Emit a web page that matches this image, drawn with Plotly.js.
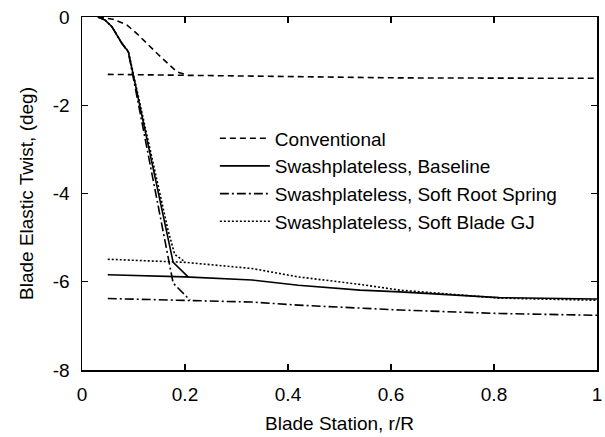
<!DOCTYPE html>
<html>
<head>
<meta charset="utf-8">
<script src="https://cdn.plot.ly/plotly-3.0.1.min.js"></script>
<style>html,body{margin:0;padding:0;background:#fff;}#chart{width:605px;height:437px;}</style>
</head>
<body>
<div id="chart"></div>
<script>
// Series names
const seriesNames = [
  "Conventional",
  "Swashplateless, Baseline",
  "Swashplateless, Soft Root Spring",
  "Swashplateless, Soft Blade GJ"
];

// Conventional (root segment, then blade segment; null separates them)
const convX = [0.031, 0.06, 0.087, 0.106, 0.148, 0.184, 0.2, null, 0.05, 0.2, 0.617, 1.0];
const convY = [0, -0.05, -0.18, -0.37, -0.85, -1.24, -1.3, null, -1.30, -1.32, -1.38, -1.39];

// Swashplateless, Baseline
const baseX = [0.031, 0.045, 0.058, 0.077, 0.09, 0.177, 0.206, null, 0.05, 0.2, 0.33, 0.42, 0.54, 0.617, 0.81, 1.0];
const baseY = [0, -0.07, -0.22, -0.59, -0.79, -5.56, -5.89, null, -5.84, -5.89, -5.96, -6.08, -6.19, -6.23, -6.36, -6.39];

// Swashplateless, Soft Root Spring
const softRootX = [0.031, 0.045, 0.058, 0.077, 0.09, 0.158, 0.177, 0.21, null, 0.05, 0.2, 0.33, 0.42, 0.54, 0.617, 0.81, 1.0];
const softRootY = [0, -0.07, -0.22, -0.59, -0.8, -4.83, -6.03, -6.42, null, -6.38, -6.42, -6.46, -6.53, -6.60, -6.64, -6.72, -6.76];

// Swashplateless, Soft Blade GJ
const softGJX = [0.031, 0.045, 0.058, 0.077, 0.09, 0.167, 0.18, 0.2, null, 0.05, 0.2, 0.33, 0.42, 0.54, 0.617, 0.81, 1.0];
const softGJY = [0, -0.07, -0.22, -0.59, -0.78, -4.83, -5.38, -5.55, null, -5.49, -5.56, -5.70, -5.89, -6.06, -6.19, -6.37, -6.42];

// Tick labels
const xTickVals = [0, 0.2, 0.4, 0.6, 0.8, 1];
const xTickText = ["0", "0.2", "0.4", "0.6", "0.8", "1"];
const yTickVals = [0, -2, -4, -6, -8];
const yTickText = ["0", "-2", "-4", "-6", "-8"];

const FONT = "'Liberation Sans', Arial, Helvetica, sans-serif";

const traces = [
  {x: convX, y: convY, name: seriesNames[0], mode: "lines",
   line: {color: "#000", width: 1.6, dash: "6px,4px"}},
  {x: baseX, y: baseY, name: seriesNames[1], mode: "lines",
   line: {color: "#000", width: 1.6, dash: "solid"}},
  {x: softRootX, y: softRootY, name: seriesNames[2], mode: "lines",
   line: {color: "#000", width: 1.6, dash: "9px,3px,2px,3px"}},
  {x: softGJX, y: softGJY, name: seriesNames[3], mode: "lines",
   line: {color: "#000", width: 1.6, dash: "2px,2px"}}
];

const axisCommon = {
  showgrid: false, zeroline: false, showline: true, mirror: "ticks",
  linecolor: "#000", linewidth: 1.5, ticks: "inside", ticklen: 6,
  tickwidth: 1.2, tickcolor: "#000",
  tickfont: {family: FONT, size: 19, color: "#000"}
};

const layout = {
  width: 605, height: 437,
  margin: {l: 82, r: 8, t: 17, b: 67},
  paper_bgcolor: "#fff", plot_bgcolor: "#fff",
  font: {family: FONT, size: 19, color: "#000"},
  xaxis: Object.assign({}, axisCommon, {
    range: [0, 1], tickvals: xTickVals, ticktext: xTickText,
    ticklabelstandoff: 7,
    title: {text: "Blade Station, r/R", font: {family: FONT, size: 19, color: "#000"}, standoff: 12}
  }),
  yaxis: Object.assign({}, axisCommon, {
    range: [-8, 0], tickvals: yTickVals, ticktext: yTickText,
    ticklabelstandoff: 7,
    title: {text: "Blade Elastic Twist, (deg)", font: {family: FONT, size: 19, color: "#000"}, standoff: 14}
  }),
  showlegend: true,
  legend: {
    x: 0.258, y: 0.71, xanchor: "left", yanchor: "top",
    bgcolor: "rgba(0,0,0,0)", borderwidth: 0,
    font: {family: FONT, size: 19, color: "#000"},
    itemwidth: 50,
    tracegroupgap: 0
  }
};

Plotly.newPlot("chart", traces, layout, {staticPlot: true, displayModeBar: false});
</script>
</body>
</html>
